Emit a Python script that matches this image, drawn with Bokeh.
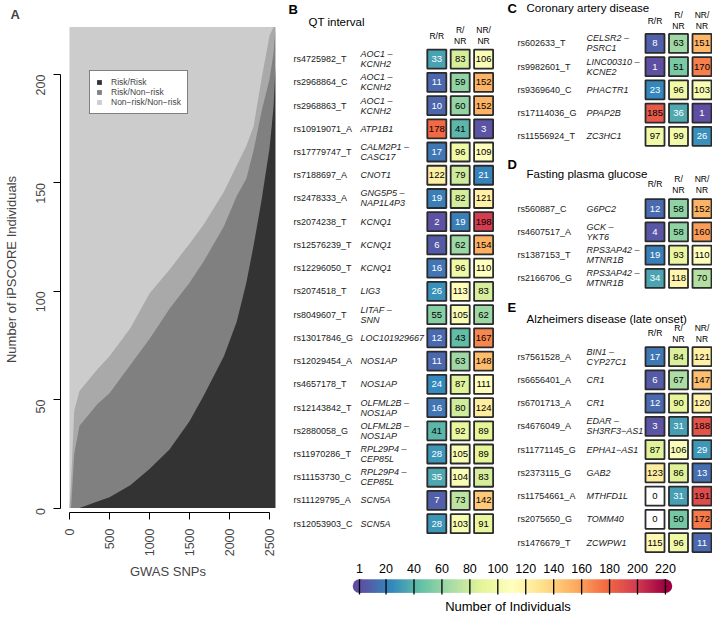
import math
import numpy as np
from bokeh.plotting import figure
from bokeh.layouts import row, column
from bokeh.models import (Range1d, FixedTicker, LinearColorMapper, Legend, LegendItem,
                          ColumnDataSource)
from bokeh.core.properties import value
from bokeh.transform import transform
from bokeh.embed import file_html
from bokeh.resources import INLINE

FONT = "Liberation Sans"

# ---------------- Panel A data ----------------
snp_rank = [0, 20, 60, 125, 350, 500, 760, 1000, 1250, 1500, 1680, 1930, 2090, 2210, 2300, 2400, 2500, 2550, 2575]
risk_risk_top = [0, 0, 0, 0, 3, 5, 10.5, 18, 27, 40, 52, 70, 86, 104, 121, 142, 166, 185, 204]
risk_nonrisk_top_solid = [0, 0, 25, 38, 48, 53, 66, 78, 92, 104, 114, 130, 144, 152, 165, 183, 198, 210, 222]
risk_nonrisk_top_streak = [0, 12, 45, 54, 64, 70, 83, 99, 110, 122, 131, 146, 158, 167, 176, 198, 218, 222, 222]
n_individuals = 222
a_xticks = [0, 500, 1000, 1500, 2000, 2500]
a_yticks = [0, 50, 100, 150, 200]
a_legend_labels = ["Risk/Risk", "Risk/Non\u2212risk", "Non\u2212risk/Non\u2212risk"]

# ---------------- Panel B: QT interval ----------------
qt_snps = ["rs4725982_T", "rs2968864_C", "rs2968863_T", "rs10919071_A", "rs17779747_T", "rs7188697_A",
           "rs2478333_A", "rs2074238_T", "rs12576239_T", "rs12296050_T", "rs2074518_T", "rs8049607_T",
           "rs13017846_G", "rs12029454_A", "rs4657178_T", "rs12143842_T", "rs2880058_G", "rs11970286_T",
           "rs11153730_C", "rs11129795_A", "rs12053903_C"]
qt_genes = ["AOC1 \u2013\nKCNH2", "AOC1 \u2013\nKCNH2", "AOC1 \u2013\nKCNH2", "ATP1B1", "CALM2P1 \u2013\nCASC17",
            "CNOT1", "GNG5P5 \u2013\nNAP1L4P3", "KCNQ1", "KCNQ1", "KCNQ1", "LIG3", "LITAF \u2013\nSNN",
            "LOC101929667", "NOS1AP", "NOS1AP", "OLFML2B \u2013\nNOS1AP", "OLFML2B \u2013\nNOS1AP",
            "RPL29P4 \u2013\nCEP85L", "RPL29P4 \u2013\nCEP85L", "SCN5A", "SCN5A"]
qt_rr = [33, 11, 10, 178, 17, 122, 19, 2, 6, 16, 26, 55, 12, 11, 24, 16, 41, 28, 35, 7, 28]
qt_rnr = [83, 59, 60, 41, 96, 79, 82, 19, 62, 96, 113, 105, 43, 63, 87, 80, 92, 105, 104, 73, 103]
qt_nrnr = [106, 152, 152, 3, 109, 21, 121, 198, 154, 110, 83, 62, 167, 148, 111, 124, 89, 89, 83, 142, 91]

# ---------------- Panel C: Coronary artery disease ----------------
cad_snps = ["rs602633_T", "rs9982601_T", "rs9369640_C", "rs17114036_G", "rs11556924_T"]
cad_genes = ["CELSR2 \u2013\nPSRC1", "LINC00310 \u2013\nKCNE2", "PHACTR1", "PPAP2B", "ZC3HC1"]
cad_rr = [8, 1, 23, 185, 97]
cad_rnr = [63, 51, 96, 36, 99]
cad_nrnr = [151, 170, 103, 1, 26]

# ---------------- Panel D: Fasting plasma glucose ----------------
fpg_snps = ["rs560887_C", "rs4607517_A", "rs1387153_T", "rs2166706_G"]
fpg_genes = ["G6PC2", "GCK \u2013\nYKT6", "RPS3AP42 \u2013\nMTNR1B", "RPS3AP42 \u2013\nMTNR1B"]
fpg_rr = [12, 4, 19, 34]
fpg_rnr = [58, 58, 93, 118]
fpg_nrnr = [152, 160, 110, 70]

# ---------------- Panel E: Alzheimers disease (late onset) ----------------
alz_snps = ["rs7561528_A", "rs6656401_A", "rs6701713_A", "rs4676049_A", "rs11771145_G",
            "rs2373115_G", "rs11754661_A", "rs2075650_G", "rs1476679_T"]
alz_genes = ["BIN1 \u2013\nCYP27C1", "CR1", "CR1", "EDAR \u2013\nSH3RF3\u2212AS1", "EPHA1\u2212AS1",
             "GAB2", "MTHFD1L", "TOMM40", "ZCWPW1"]
alz_rr = [17, 6, 12, 3, 87, 123, 0, 0, 115]
alz_rnr = [84, 67, 90, 31, 106, 86, 31, 50, 96]
alz_nrnr = [121, 147, 120, 188, 29, 13, 191, 172, 11]

genotype_headers = ["R/R", "R/\nNR", "NR/\nNR"]
colorbar_ticks = [1, 20, 40, 60, 80, 100, 120, 140, 160, 180, 200, 220]

# ---------------- colour scale ----------------
spectral_rev = ["#5E4FA2", "#3288BD", "#66C2A5", "#ABDDA4", "#E6F598", "#FFFFBF",
                "#FEE08B", "#FDAE61", "#F46D43", "#D53E4F", "#9E0142"]


def interp_palette(pal, n):
    rgb = [tuple(int(c[k:k + 2], 16) for k in (1, 3, 5)) for c in pal]
    out = []
    for k in range(n):
        t = k / (n - 1) * (len(pal) - 1)
        i = min(int(t), len(pal) - 2)
        f = t - i
        c = [round(rgb[i][j] * (1 - f) + rgb[i + 1][j] * f) for j in range(3)]
        out.append("#%02x%02x%02x" % tuple(c))
    return out


palette = interp_palette(spectral_rev, 256)
mapper = LinearColorMapper(palette=palette, low=1, high=220, low_color="white")


def blank_fig(width, height, x_range, y_range):
    p = figure(width=width, height=height, x_range=x_range, y_range=y_range,
               x_axis_type=None, y_axis_type=None,
               min_border=0, min_border_left=0, min_border_right=0, min_border_top=0, min_border_bottom=0,
               output_backend="svg", toolbar_location=None)
    p.grid.visible = False
    p.outline_line_color = None
    return p


# ---------------- Panel A ----------------
A_W, A_H = 288, 613

pA = figure(width=A_W, height=A_H, x_range=Range1d(-112, 2574.5), y_range=Range1d(-2.07, 222.2),
            title="A", output_backend="svg", toolbar_location=None,
            min_border_left=59, min_border_right=13, min_border_top=25, min_border_bottom=101)
pA.title.align = "left"
pA.title.offset = -50
pA.title.standoff = 9
pA.title.text_font = FONT
pA.title.text_font_size = "13px"
pA.title.text_font_style = "bold"
pA.grid.visible = False
pA.outline_line_color = None

total = [n_individuals] * len(snp_rank)
zeros = [0] * len(snp_rank)
r_light = pA.varea(x=snp_rank, y1=zeros, y2=total, fill_color="#cccccc")
pA.varea(x=snp_rank, y1=zeros, y2=risk_nonrisk_top_streak, fill_color="#a9a9a9")
r_mid = pA.varea(x=snp_rank, y1=zeros, y2=risk_nonrisk_top_solid, fill_color="#808080")
r_dark = pA.varea(x=snp_rank, y1=zeros, y2=risk_risk_top, fill_color="#333333")

legend = Legend(items=[LegendItem(label=a_legend_labels[0], renderers=[r_dark]),
                       LegendItem(label=a_legend_labels[1], renderers=[r_mid]),
                       LegendItem(label=a_legend_labels[2], renderers=[r_light])],
                location=(29, 398), border_line_color="black", border_line_width=1,
                background_fill_color="white", background_fill_alpha=1.0,
                label_text_font=FONT, label_text_font_size="8.5px",
                glyph_width=6, glyph_height=6, label_height=10, label_standoff=9,
                padding=6, spacing=0, margin=0)
pA.add_layout(legend)

xa = pA.xaxis[0]
xa.ticker = FixedTicker(ticks=a_xticks)
xa.bounds = (0, 2500)
xa.major_tick_out = 7
xa.major_tick_in = 0
xa.minor_tick_line_color = None
xa.major_label_orientation = math.pi / 2
xa.major_label_standoff = 9
xa.major_label_text_font = FONT
xa.major_label_text_font_size = "12.5px"
xa.axis_label = "GWAS SNPs"
xa.axis_label_standoff = 5
xa.axis_label_text_font = FONT
xa.axis_label_text_font_size = "13px"
xa.axis_label_text_font_style = "normal"

ya = pA.yaxis[0]
ya.ticker = FixedTicker(ticks=a_yticks)
ya.bounds = (0, 200)
ya.major_tick_out = 7
ya.major_tick_in = 0
ya.minor_tick_line_color = None
ya.major_label_orientation = math.pi / 2
ya.major_label_standoff = 13
ya.major_label_text_font = FONT
ya.major_label_text_font_size = "12.5px"
ya.axis_label = "Number of iPSCORE Individuals"
ya.axis_label_standoff = 10
ya.axis_label_text_font = FONT
ya.axis_label_text_font_size = "13px"
ya.axis_label_text_font_style = "normal"


# ---------------- table panels ----------------
def table_figure(width, height, col0, coldx, row0, rowdy, snps, genes, rr, rnr, nrnr,
                 letter, letter_xy, title, title_xy, header_y, snp_x, gene_x):
    xs = -col0 / coldx
    yt = -row0 / rowdy
    p = blank_fig(width, height, Range1d(xs, xs + width / coldx), Range1d(yt + height / rowdy, yt))

    def px2x(px):
        return xs + px / coldx

    def px2y(py):
        return yt + py / rowdy

    n = len(snps)
    cells = dict(col=[], row=[], val=[], txt=[], tc=[])
    for i in range(n):
        for j, v in enumerate((rr[i], rnr[i], nrnr[i])):
            cells["col"].append(j)
            cells["row"].append(i)
            cells["val"].append(v)
            cells["txt"].append(str(v))
            cells["tc"].append("white" if 1 <= v < 38 else "black")
    src = ColumnDataSource(cells)
    p.rect(x="col", y="row", width=19, height=19, width_units="screen", height_units="screen",
           source=src, fill_color=transform("val", mapper), line_color="#2b2b2b", line_width=1.8)
    p.text(x="col", y="row", text="txt", text_color="tc", source=src, text_align="center",
           text_baseline="middle", text_font=value(FONT), text_font_size="9.5px")

    rows_idx = list(range(n))
    p.text(x=[px2x(snp_x)] * n, y=rows_idx, text=snps, text_align="left", text_baseline="middle",
           text_font=value(FONT), text_font_size="9px", text_color="#1a1a1a")
    p.text(x=[px2x(gene_x)] * n, y=rows_idx, text=genes, text_align="left", text_baseline="middle",
           text_font=value(FONT), text_font_size="9px", text_font_style="italic",
           text_line_height=1.0, text_color="#1a1a1a")
    p.text(x=[0, 1, 2], y=[px2y(header_y)] * 3, text=genotype_headers, text_align="center",
           text_baseline="middle", text_font=value(FONT), text_font_size="8.5px", text_line_height=1.1)
    p.text(x=[px2x(letter_xy[0])], y=[px2y(letter_xy[1])], text=[letter], text_align="left",
           text_baseline="middle", text_font=value(FONT), text_font_size="13px", text_font_style="bold")
    p.text(x=[px2x(title_xy[0])], y=[px2y(title_xy[1])], text=[title], text_align="left",
           text_baseline="middle", text_font=value(FONT), text_font_size="11.5px")
    return p


ROW_DY = 23.23
pB = table_figure(212, 556, 148.3, 23.4, 58.6, ROW_DY, qt_snps, qt_genes, qt_rr, qt_rnr, qt_nrnr,
                  "B", (0, 8.8), "QT interval", (20, 21.0), 35.1, 5, 72)
pC = table_figure(212, 152, 154.5, 23.5, 42.9, ROW_DY, cad_snps, cad_genes, cad_rr, cad_rnr, cad_nrnr,
                  "C", (7, 7.8), "Coronary artery disease", (26, 7.8), 20.0, 17, 86)
pD = table_figure(212, 148, 154.5, 23.5, 56.2, ROW_DY, fpg_snps, fpg_genes, fpg_rr, fpg_rnr, fpg_nrnr,
                  "D", (7, 11.5), "Fasting plasma glucose", (26, 21.7), 31.5, 17, 86)
pE = table_figure(212, 256, 154.5, 23.5, 56.2, ROW_DY, alz_snps, alz_genes, alz_rr, alz_rnr, alz_nrnr,
                  "E", (7, 7.4), "Alzheimers disease (late onset)", (26, 18.7), 32.8, 17, 86)

# ---------------- colour bar ----------------
CB_W, CB_H = 424, 57
cb_scale = 1.397
cb_xs = 1 - 71 / cb_scale
pCB = blank_fig(CB_W, CB_H, Range1d(cb_xs, cb_xs + CB_W / cb_scale), Range1d(0, CB_H))


def cy(px):
    return CB_H - px


bar_top, bar_bot = 22.8, 36.4
lo, hi = colorbar_ticks[0], colorbar_ticks[-1]
pCB.scatter(x=[lo, hi], y=[cy((bar_top + bar_bot) / 2)] * 2, size=bar_bot - bar_top, marker="circle",
            fill_color=[palette[0], palette[-1]], line_color=None)
grad = np.array([np.linspace(lo, hi, 440)])
pCB.image(image=[grad], x=lo, y=cy(bar_bot), dw=hi - lo, dh=bar_bot - bar_top, color_mapper=mapper)
pCB.segment(x0=colorbar_ticks, x1=colorbar_ticks, y0=[cy(bar_top)] * len(colorbar_ticks),
            y1=[cy(bar_bot + 1.5)] * len(colorbar_ticks), line_color="black", line_width=1.3)
pCB.text(x=colorbar_ticks, y=[cy(12.0)] * len(colorbar_ticks), text=[str(t) for t in colorbar_ticks],
         text_align="center", text_baseline="middle", text_font=value(FONT), text_font_size="12.5px")
pCB.text(x=[cb_xs + 219.5 / cb_scale], y=[cy(50.1)], text=["Number of Individuals"],
         text_align="center", text_baseline="middle", text_font=value(FONT), text_font_size="13px")

layout = row(pA, column(row(pB, column(pC, pD, pE)), pCB))
open("out.html", "w").write(file_html(layout, INLINE))
